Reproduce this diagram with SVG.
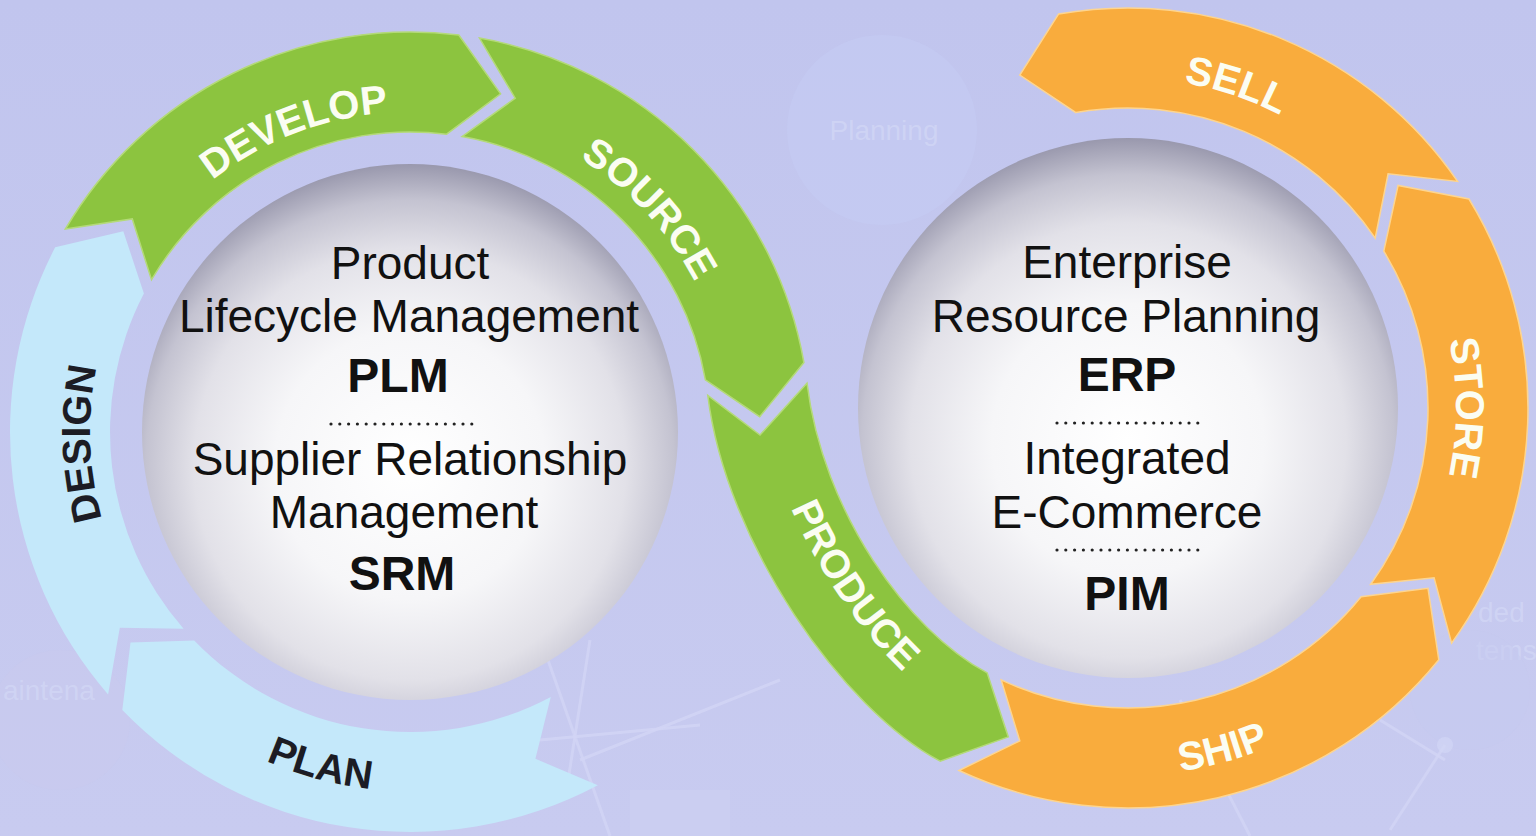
<svg xmlns="http://www.w3.org/2000/svg" xmlns:xlink="http://www.w3.org/1999/xlink" width="1536" height="836" viewBox="0 0 1536 836">
  <defs>
    <linearGradient id="bgGrad" x1="0" y1="0" x2="0" y2="1">
      <stop offset="0" stop-color="#c1c5ee"/>
      <stop offset="1" stop-color="#c8cbf0"/>
    </linearGradient>
    <radialGradient id="sphere" cx="0.5" cy="0.56" r="0.56">
      <stop offset="0" stop-color="#ffffff"/>
      <stop offset="0.45" stop-color="#f6f6f8"/>
      <stop offset="0.72" stop-color="#e2e1e8"/>
      <stop offset="0.88" stop-color="#c4c3d1"/>
      <stop offset="1" stop-color="#9998ad"/>
    </radialGradient>
    <path id="tp-develop" d="M 107.4,327.8 A 320 320 0 0 1 565.1,152.1"/>
    <path id="tp-source" d="M 393.2,110.4 A 322 322 0 0 1 729.6,471.3"/>
    <path id="tp-design" d="M 213,684.2 A 320 320 0 0 1 195.9,194.2"/>
    <path id="tp-plan" d="M 84.6,583.7 A 359 359 0 0 0 615.9,726.1"/>
    <path id="tp-produce" d="M 757.4,389.3 C 774.5,528.3 875.4,670.1 963.7,717"/>
    <path id="tp-sell" d="M 956.1,126.3 A 330 330 0 0 1 1435.3,287.6"/>
    <path id="tp-store" d="M 1338.8,156.7 A 328 328 0 0 1 1338.8,659.3"/>
    <path id="tp-ship" d="M 920.1,710.4 A 367 367 0 0 0 1462,560.2"/>
  </defs>
  <style>
    .green { fill: #8cc43f; stroke: #b4da78; stroke-width: 1.5; }
    .orange { fill: #f9ac3d; stroke: #fdd590; stroke-width: 1.5; }
    .blue { fill: #c4e8fa; stroke: none; }
    .lbl { font-family: "Liberation Sans", Arial, sans-serif; font-weight: bold; font-size: 40px; }
    .lbl-w { fill: #fbfdf2; }
    .lbl-d { fill: #1c1c24; }
    .body { font-family: "Liberation Sans", Arial, sans-serif; font-size: 46px; fill: #111111; text-anchor: middle; }
    .abbr { font-family: "Liberation Sans", Arial, sans-serif; font-size: 48px; font-weight: bold; fill: #111111; text-anchor: middle; }
    .dots { stroke: #222222; stroke-width: 3.2; stroke-linecap: round; stroke-dasharray: 0 8.8; fill: none; }
    .ghost { font-family: "Liberation Sans", Arial, sans-serif; font-size: 28px; fill: #d3d8f6; opacity: 0.7; }
    .net { stroke: #d2d5f5; stroke-width: 3; fill: none; opacity: 0.8; }
  </style>

  <!-- background -->
  <rect x="0" y="0" width="1536" height="836" fill="url(#bgGrad)"/>
  <g id="background-decor">
    <circle cx="882" cy="130" r="95" fill="#c4ccf3" opacity="0.6"/>
    <text class="ghost" x="884" y="140" text-anchor="middle">Planning</text>
    <circle cx="60" cy="720" r="70" fill="#c9caee" opacity="0.5"/>
    <text class="ghost" x="3" y="700">aintena</text>
    <text class="ghost" x="1478" y="622">ded</text>
    <text class="ghost" x="1476" y="660">tems</text>
    <circle cx="1470" cy="690" r="60" fill="#c5c9ef" opacity="0.5"/>
    <line class="net" x1="548" y1="660" x2="610" y2="836"/>
    <line class="net" x1="590" y1="640" x2="565" y2="800"/>
    <line class="net" x1="540" y1="740" x2="700" y2="725"/>
    <line class="net" x1="580" y1="760" x2="780" y2="680"/>
    <line class="net" x1="1180" y1="700" x2="1250" y2="836"/>
    <line class="net" x1="1380" y1="720" x2="1445" y2="760"/>
    <line class="net" x1="1390" y1="830" x2="1445" y2="745"/>
    <circle cx="1445" cy="745" r="8" fill="#d2d5f5" opacity="0.7"/>
    <rect x="630" y="790" width="100" height="46" fill="#cdd0f2" opacity="0.6"/>
  </g>

  <!-- spheres -->
  <g id="node-plm">
    <circle cx="410" cy="432" r="268" fill="url(#sphere)"/>
    <text class="body" x="410" y="279">Product</text>
    <text class="body" x="409" y="332">Lifecycle Management</text>
    <text class="abbr" x="398" y="392">PLM</text>
    <line class="dots" x1="331" y1="424" x2="472" y2="424"/>
    <text class="body" x="410" y="475">Supplier Relationship</text>
    <text class="body" x="404" y="528">Management</text>
    <text class="abbr" x="402" y="590">SRM</text>
  </g>
  <g id="node-erp">
    <circle cx="1128" cy="408" r="270" fill="url(#sphere)"/>
    <text class="body" x="1127" y="278">Enterprise</text>
    <text class="body" x="1126" y="332">Resource Planning</text>
    <text class="abbr" x="1127" y="391">ERP</text>
    <line class="dots" x1="1057" y1="423" x2="1200" y2="423"/>
    <text class="body" x="1127" y="474">Integrated</text>
    <text class="body" x="1127" y="528">E-Commerce</text>
    <line class="dots" x1="1057" y1="550" x2="1200" y2="550"/>
    <text class="abbr" x="1127" y="610">PIM</text>
  </g>

  <!-- cycle arrows -->
  <g id="connectors">
    <g id="step-plan">
      <path class="blue" d="M 597.8,785.2 A 400 400 0 0 1 122.3,709.9 L 130.5,642.6 L 194.2,640.4 A 300 300 0 0 0 550.8,696.9 L 535.4,758.8 Z"/>
      <text class="lbl lbl-d"><textPath xlink:href="#tp-plan" href="#tp-plan" startOffset="50%" text-anchor="middle">PLAN</textPath></text>
    </g>
    <g id="step-design">
      <path class="blue" d="M 108.1,694.4 A 400 400 0 0 1 55.2,247.3 L 123.3,231.2 L 143.9,293.5 A 300 300 0 0 0 183.6,628.8 L 119.8,627.7 Z"/>
      <text class="lbl lbl-d"><textPath xlink:href="#tp-design" href="#tp-design" startOffset="50%" text-anchor="middle">DESIGN</textPath></text>
    </g>
    <g id="step-develop">
      <path class="green" d="M 65.4,229.0 A 400 400 0 0 1 458.8,35.0 L 500.6,93.9 L 446.6,134.2 A 300 300 0 0 0 151.5,279.7 L 132.3,218.9 Z"/>
      <text class="lbl lbl-w"><textPath xlink:href="#tp-develop" href="#tp-develop" startOffset="50%" text-anchor="middle">DEVELOP</textPath></text>
    </g>
    <g id="step-source">
      <path class="green" d="M 479.5,38.1 A 400 400 0 0 1 803.9,362.5 L 759.7,416.7 L 705.4,379.9 A 300 300 0 0 0 462.1,136.6 L 515.2,98.2 Z"/>
      <text class="lbl lbl-w"><textPath xlink:href="#tp-source" href="#tp-source" startOffset="50%" text-anchor="middle">SOURCE</textPath></text>
    </g>
    <g id="step-produce">
      <path class="green" d="M 707.8,395.4 C 726.1,544.3 843.1,709.6 940.2,761.2 L 1008.3,736.9 L 987.2,672.9 C 907.7,630.6 822.8,512.2 807.0,383.2 L 760.0,435.1 Z"/>
      <text class="lbl lbl-w"><textPath xlink:href="#tp-produce" href="#tp-produce" startOffset="56%" text-anchor="middle">PRODUCE</textPath></text>
    </g>
    <g id="step-ship">
      <path class="orange" d="M 959.0,770.5 A 400 400 0 0 0 1438.8,659.7 L 1428,588.3 L 1361.1,596.8 A 300 300 0 0 1 1001.2,679.9 L 1019.8,740.9 Z"/>
      <text class="lbl lbl-w"><textPath xlink:href="#tp-ship" href="#tp-ship" startOffset="50%" text-anchor="middle">SHIP</textPath></text>
    </g>
    <g id="step-store">
      <path class="orange" d="M 1451.6,643.1 A 400 400 0 0 0 1469,199 L 1398.1,185.4 L 1383.8,251.2 A 300 300 0 0 1 1370.7,584.3 L 1434.1,577.7 Z"/>
      <text class="lbl lbl-w"><textPath xlink:href="#tp-store" href="#tp-store" startOffset="50%" text-anchor="middle">STORE</textPath></text>
    </g>
    <g id="step-sell">
      <path class="orange" d="M 1457.6,181.4 A 400 400 0 0 0 1058.5,14.1 L 1019.8,75.1 L 1075.9,112.6 A 300 300 0 0 1 1375.2,238.1 L 1388.1,173.8 Z"/>
      <text class="lbl lbl-w"><textPath xlink:href="#tp-sell" href="#tp-sell" startOffset="50%" text-anchor="middle">SELL</textPath></text>
    </g>
  </g>
</svg>
